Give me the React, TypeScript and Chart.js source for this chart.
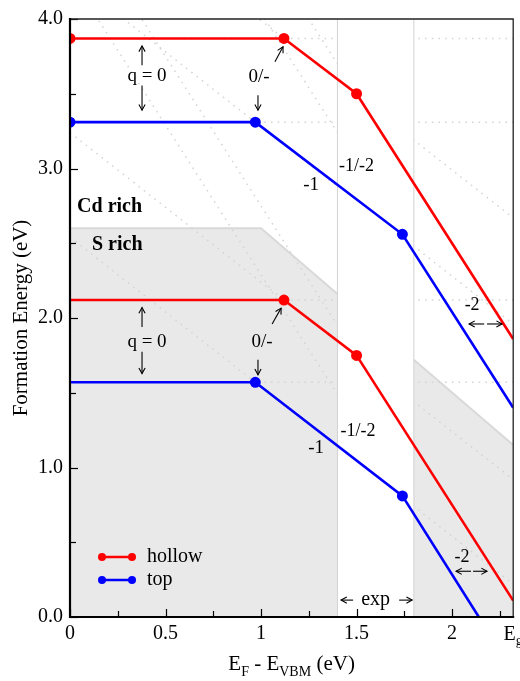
import React, { useEffect, useRef } from "react";
import { Chart, registerables } from "chart.js";

Chart.register(...registerables);

const FONT = "'Liberation Serif', 'Times New Roman', serif";

// Axis ranges / ticks
const EG = 2.32;
const xTickValues = [0, 0.5, 1, 1.5, 2];
const xMinorValues = [0.25, 0.75, 1.25, 1.75, 2.25];
const yTickValues = [0, 1, 2, 3, 4];
const yMinorValues = [0.5, 1.5, 2.5, 3.5];

// Stable-state formation energy lines (EF, E)
const hollowCdX = [0, 1.12, 1.5, 2.32];
const hollowCdY = [3.87, 3.87, 3.5, 1.86];
const topCdX = [0, 0.97, 1.74, 2.32];
const topCdY = [3.31, 3.31, 2.56, 1.4];
const hollowSX = [0, 1.12, 1.5, 2.32];
const hollowSY = [2.12, 2.12, 1.75, 0.11];
const topSX = [0, 0.97, 1.74, 2.14];
const topSY = [1.57, 1.57, 0.81, 0.0];
const cdDots = [1, 1, 1, 0];
const sDots = [0, 1, 1, 0];

// Charge-state lines (dotted): intercept at EF = 0 for q = 0, -1, -2
const charges = [0, -1, -2];
const hollowCdE0 = [3.87, 4.99, 6.5];
const topCdE0 = [3.31, 4.28, 6.04];
const hollowSE0 = [2.12, 3.24, 4.75];
const topSE0 = [1.57, 2.54, 4.29];

// S-rich shaded region boundary
const shadeLeftX = [0, 1.0, 1.4];
const shadeLeftY = [2.6, 2.6, 2.16];
const shadeRightX = [1.8, 2.32];
const shadeRightY = [1.72, 1.15];
const expRange = [1.4, 1.8];

// Annotations
const labelTexts = ["q = 0", "q = 0", "0/-", "0/-", "-1/-2", "-1", "-1/-2", "-1", "-2", "-2", "exp"];
const labelX = [0.403, 0.403, 0.99, 1.005, 1.5, 1.262, 1.508, 1.288, 2.105, 2.052, 1.6];
const labelY = [3.62, 1.84, 3.615, 1.84, 3.017, 2.89, 1.243, 1.13, 2.086, 0.4, 0.113];
const labelSize = [19, 19, 19, 19, 18, 19, 18, 19, 18, 18, 20];

// arrows: [x1, y1, x2, y2], head at (x2, y2)
const arrows = [
  [0.377, 3.69, 0.377, 3.82],
  [0.377, 3.555, 0.377, 3.39],
  [0.377, 1.94, 0.377, 2.07],
  [0.377, 1.774, 0.377, 1.628],
  [0.984, 3.49, 0.984, 3.39],
  [1.073, 3.714, 1.115, 3.814],
  [0.984, 1.72, 0.984, 1.62],
  [1.058, 1.96, 1.105, 2.066],
  [2.168, 1.96, 2.089, 1.96],
  [2.183, 1.96, 2.262, 1.96],
  [2.099, 0.306, 2.021, 0.306],
  [2.11, 0.306, 2.183, 0.306],
  [1.482, 0.113, 1.419, 0.113],
  [1.723, 0.113, 1.791, 0.113],
];

const regionNames = ["Cd rich", "S rich"];
const regionX = [0.037, 0.115];
const regionY = [2.744, 2.49];

const legendNames = ["hollow", "top"];
const legendColors = ["#ff0000", "#0000ff"];

function pts(xs: number[], ys: number[]) {
  return xs.map((x, i) => ({ x, y: ys[i] }));
}

function drawArrow(ctx: CanvasRenderingContext2D, x1: number, y1: number, x2: number, y2: number) {
  ctx.beginPath();
  ctx.moveTo(x1, y1);
  ctx.lineTo(x2, y2);
  ctx.stroke();
  const a = Math.atan2(y2 - y1, x2 - x1);
  const h = 6.5;
  const w = 0.5;
  ctx.beginPath();
  ctx.moveTo(x2 - h * Math.cos(a - w), y2 - h * Math.sin(a - w));
  ctx.lineTo(x2, y2);
  ctx.lineTo(x2 - h * Math.cos(a + w), y2 - h * Math.sin(a + w));
  ctx.stroke();
}

const decorPlugin = {
  id: "decor",
  afterDatasetsDraw(chart: any) {
    const ctx: CanvasRenderingContext2D = chart.ctx;
    const xs = chart.scales.x;
    const ys = chart.scales.y;
    ctx.save();

    // annotation labels
    ctx.fillStyle = "#000";
    ctx.textAlign = "center";
    ctx.textBaseline = "middle";
    labelTexts.forEach((t, i) => {
      ctx.font = `${labelSize[i]}px ${FONT}`;
      ctx.fillText(t, xs.getPixelForValue(labelX[i]), ys.getPixelForValue(labelY[i]));
    });

    // arrows
    ctx.strokeStyle = "#000";
    ctx.lineWidth = 1.1;
    arrows.forEach((a) => {
      drawArrow(
        ctx,
        xs.getPixelForValue(a[0]),
        ys.getPixelForValue(a[1]),
        xs.getPixelForValue(a[2]),
        ys.getPixelForValue(a[3])
      );
    });

    // region names
    ctx.textAlign = "left";
    ctx.font = `bold 20px ${FONT}`;
    regionNames.forEach((t, i) => {
      ctx.fillText(t, xs.getPixelForValue(regionX[i]), ys.getPixelForValue(regionY[i]));
    });

    // legend
    legendNames.forEach((t, i) => {
      const y = 557 + i * 23;
      ctx.strokeStyle = legendColors[i];
      ctx.fillStyle = legendColors[i];
      ctx.lineWidth = 2.5;
      ctx.beginPath();
      ctx.moveTo(102, y);
      ctx.lineTo(132, y);
      ctx.stroke();
      [102, 132].forEach((px) => {
        ctx.beginPath();
        ctx.arc(px, y, 4, 0, Math.PI * 2);
        ctx.fill();
      });
      ctx.fillStyle = "#000";
      ctx.font = `20px ${FONT}`;
      ctx.textAlign = "left";
      ctx.textBaseline = "middle";
      ctx.fillText(t, 147, y);
    });
    ctx.restore();
  },
  afterDraw(chart: any) {
    const ctx: CanvasRenderingContext2D = chart.ctx;
    const xs = chart.scales.x;
    const ys = chart.scales.y;
    const { left, right, top, bottom } = chart.chartArea;
    ctx.save();
    // ticks inward
    ctx.strokeStyle = "#000";
    ctx.lineWidth = 1.2;
    const tick = (vals: number[], len: number, horiz: boolean) => {
      vals.forEach((v) => {
        ctx.beginPath();
        if (horiz) {
          const p = Math.round(xs.getPixelForValue(v)) + 0.5;
          ctx.moveTo(p, bottom);
          ctx.lineTo(p, bottom - len);
        } else {
          const p = Math.round(ys.getPixelForValue(v)) + 0.5;
          ctx.moveTo(left, p);
          ctx.lineTo(left + len, p);
        }
        ctx.stroke();
      });
    };
    tick(xTickValues, 8, true);
    tick(xMinorValues, 6, true);
    tick(yTickValues, 8, false);
    tick(yMinorValues, 6, false);

    // frame
    ctx.strokeStyle = "#222";
    ctx.lineWidth = 1.3;
    ctx.beginPath();
    ctx.moveTo(left, top);
    ctx.lineTo(right, top);
    ctx.lineTo(right, bottom);
    ctx.stroke();
    ctx.strokeStyle = "#000";
    ctx.lineWidth = 2.2;
    ctx.beginPath();
    ctx.moveTo(left, top - 1);
    ctx.lineTo(left, bottom);
    ctx.lineTo(right + 1, bottom);
    ctx.stroke();

    // E_g tick label
    ctx.fillStyle = "#000";
    ctx.textBaseline = "alphabetic";
    ctx.textAlign = "left";
    ctx.font = `20px ${FONT}`;
    const eW = ctx.measureText("E").width;
    ctx.font = `14px ${FONT}`;
    const gW = ctx.measureText("g").width;
    const gx = xs.getPixelForValue(EG) - (eW + gW) / 2;
    ctx.font = `20px ${FONT}`;
    ctx.fillText("E", gx, 640);
    ctx.font = `14px ${FONT}`;
    ctx.fillText("g", gx + eW, 645);

    // x-axis title with subscripts
    const parts: [string, boolean][] = [
      ["E", false],
      ["F", true],
      [" - E", false],
      ["VBM", true],
      [" (eV)", false],
    ];
    let total = 0;
    parts.forEach(([t, sub]) => {
      ctx.font = `${sub ? 14 : 21}px ${FONT}`;
      total += ctx.measureText(t).width;
    });
    let cx = (left + right) / 2 - total / 2;
    parts.forEach(([t, sub]) => {
      ctx.font = `${sub ? 14 : 21}px ${FONT}`;
      ctx.fillText(t, cx, sub ? 676 : 670);
      cx += ctx.measureText(t).width;
    });
    ctx.restore();
  },
};

export default function App() {
  const ref = useRef<HTMLCanvasElement | null>(null);

  useEffect(() => {
    document.body.style.margin = "0";
    const canvas = ref.current;
    if (!canvas) return;

    const dotted: any[] = [];
    [hollowCdE0, topCdE0, hollowSE0, topSE0].forEach((e0s) => {
      e0s.forEach((e0, i) => {
        dotted.push({
          data: [
            { x: 0, y: e0 },
            { x: EG, y: e0 + charges[i] * EG },
          ],
          borderColor: "#d3d3d3",
          borderWidth: 1.5,
          borderDash: [1.5, 5.2],
          pointRadius: 0,
          fill: false,
          order: 50,
        });
      });
    });

    const solid = (xs: number[], ys: number[], dots: number[], color: string, order: number) => ({
      data: pts(xs, ys),
      borderColor: color,
      backgroundColor: color,
      pointBackgroundColor: color,
      pointBorderColor: color,
      pointRadius: dots.map((d) => (d ? 4.2 : 0)),
      borderWidth: 2.6,
      fill: false,
      order,
    });

    const chart = new Chart(canvas, {
      type: "line",
      data: {
        datasets: [
          {
            data: pts(shadeLeftX, shadeLeftY),
            borderColor: "#d9d9d9",
            borderWidth: 2,
            backgroundColor: "#e9e9e9",
            fill: "origin",
            pointRadius: 0,
            order: 100,
          },
          {
            data: pts(shadeRightX, shadeRightY),
            borderColor: "#d9d9d9",
            borderWidth: 2,
            backgroundColor: "#e9e9e9",
            fill: "origin",
            pointRadius: 0,
            order: 100,
          },
          ...dotted,
          {
            data: [
              { x: expRange[0], y: 4 },
              { x: expRange[1], y: 4 },
            ],
            borderWidth: 0,
            backgroundColor: "#ffffff",
            fill: "origin",
            pointRadius: 0,
            order: 40,
          },
          ...expRange.map((v) => ({
            data: [
              { x: v, y: 0 },
              { x: v, y: 4 },
            ],
            borderColor: "#d2d2d2",
            borderWidth: 1,
            pointRadius: 0,
            fill: false,
            order: 30,
          })),
          solid(hollowCdX, hollowCdY, cdDots, "#ff0000", 4),
          solid(topCdX, topCdY, cdDots, "#0000ff", 3),
          solid(hollowSX, hollowSY, sDots, "#ff0000", 2),
          solid(topSX, topSY, sDots, "#0000ff", 1),
        ],
      },
      options: {
        responsive: false,
        animation: false,
        devicePixelRatio: 1,
        events: [],
        layout: { padding: { top: 14, right: 6, left: 0, bottom: 0 } },
        elements: { line: { tension: 0 } },
        plugins: {
          legend: { display: false },
          tooltip: { enabled: false },
        },
        scales: {
          x: {
            type: "linear",
            min: 0,
            max: EG,
            afterBuildTicks: (s: any) => {
              s.ticks = xTickValues.map((v) => ({ value: v }));
            },
            afterFit: (s: any) => {
              s.height = 64;
            },
            ticks: {
              font: { family: FONT, size: 20 },
              color: "#000",
              padding: 5,
              maxRotation: 0,
              autoSkip: false,
              callback: (v: any) => String(v),
            },
            grid: { drawOnChartArea: false, drawTicks: false },
            border: { display: false },
          },
          y: {
            type: "linear",
            min: 0,
            max: 4,
            afterBuildTicks: (s: any) => {
              s.ticks = yTickValues.map((v) => ({ value: v }));
            },
            afterFit: (s: any) => {
              s.width = 70;
            },
            ticks: {
              font: { family: FONT, size: 20 },
              color: "#000",
              padding: 7,
              autoSkip: false,
              callback: (v: any) => Number(v).toFixed(1),
            },
            grid: { drawOnChartArea: false, drawTicks: false },
            border: { display: false },
            title: {
              display: true,
              text: "Formation Energy (eV)",
              font: { family: FONT, size: 21 },
              color: "#000",
              padding: { top: 9, bottom: 0 },
            },
          },
        },
      },
      plugins: [decorPlugin],
    } as any);

    return () => chart.destroy();
  }, []);

  return (
    <div style={{ position: "absolute", left: 0, top: 0, width: 520, height: 681, background: "#fff" }}>
      <canvas ref={ref} width={520} height={681} style={{ display: "block" }} />
    </div>
  );
}
